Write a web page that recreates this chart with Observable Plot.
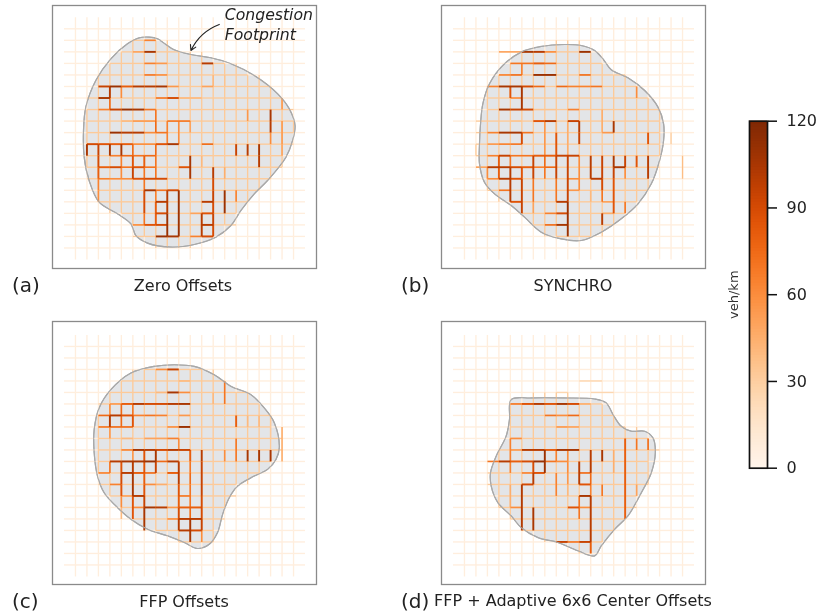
<!DOCTYPE html>
<html><head><meta charset="utf-8">
<script src="https://cdn.jsdelivr.net/npm/d3@7"></script>
<script src="https://cdn.jsdelivr.net/npm/@observablehq/plot@0.6"></script>
<style>
html,body{margin:0;padding:0;background:#fff;}
#page{position:relative;width:818px;height:613px;overflow:hidden;font-family:"DejaVu Sans",sans-serif;color:#222;filter:blur(0.45px);}
#page>div{position:absolute;}
.cap{font-size:16px;white-space:nowrap;transform:translate(-50%,-50%);}
.tag{font-size:20px;white-space:nowrap;transform:translateY(-50%);}
svg{overflow:visible;}
</style></head><body><div id="page"></div>
<script>
const outsideLevel = 7, insideLevel = 32;
const colorTicks = [0, 30, 60, 90, 120];
const captions = ["Zero Offsets", "SYNCHRO", "FFP Offsets", "FFP + Adaptive 6x6 Center Offsets"];
const tags = ["(a)", "(b)", "(c)", "(d)"];

// [row, colFrom, colTo, veh/km]
const aH = [[1,6,7,65],[2,5,6,50],[2,6,7,105],[3,6,7,65],[3,7,8,55],[3,11,12,100],[4,6,7,70],[4,7,8,60],
[5,2,3,95],[5,3,4,110],[5,4,5,80],[5,5,6,100],[5,6,7,100],[5,7,8,105],[5,8,9,55],[5,11,12,50],
[6,2,3,105],[6,7,8,70],[6,8,9,90],[6,9,11,40],[7,2,3,65],[7,3,4,95],[7,4,5,110],[7,5,6,105],[7,6,7,70],
[8,4,5,40],[8,5,7,55],[8,8,10,70],[9,3,4,110],[9,4,5,100],[9,5,6,100],[9,6,7,60],[9,7,8,70],
[10,1,2,90],[10,2,3,85],[10,3,5,80],[10,5,7,60],[10,7,8,85],[10,8,9,105],[10,11,12,75],
[11,3,4,65],[11,4,5,75],[11,5,6,70],[11,6,7,75],[12,2,3,80],[12,3,4,90],[12,4,5,70],[12,5,6,85],[12,6,7,70],[12,9,10,85],
[13,2,3,65],[13,3,5,60],[13,5,6,85],[13,6,8,90],[14,6,7,105],[14,7,8,70],[14,8,9,90],[15,7,8,100],[15,11,12,100],
[16,7,8,90],[16,10,11,50],[16,11,12,85],[17,5,6,60],[17,6,7,85],[17,7,8,90],[17,11,12,100],
[18,7,8,110],[18,8,9,105],[18,10,11,65],[18,11,12,90]];
// [col, rowFrom, rowTo, veh/km]
const aV = [[1,10,11,105],[2,10,11,95],[2,11,12,90],[2,12,13,80],[2,13,14,65],[2,14,15,60],[3,5,6,100],[3,6,7,75],[3,10,11,105],
[4,5,6,60],[4,10,11,105],[4,11,12,65],[4,12,13,60],[5,10,11,75],[5,11,12,85],[5,12,13,95],[6,11,12,80],[6,12,13,70],[6,13,14,70],[6,14,16,90],[6,16,17,70],
[7,7,8,70],[7,8,9,75],[7,10,11,75],[7,11,13,70],[7,14,15,65],[7,15,17,80],[8,8,10,65],[8,14,16,100],[8,16,18,110],[9,8,10,60],[9,14,18,110],
[10,8,9,50],[10,11,13,105],[11,11,12,40],[11,16,18,100],[12,4,5,40],[12,12,13,100],[12,13,14,90],[12,14,15,95],[12,15,16,90],[12,16,17,95],[12,17,18,90],
[13,4,5,35],[13,12,13,45],[13,14,16,110],[14,10,11,95],[14,14,15,65],[15,7,8,55],[15,10,11,100],[16,10,11,105],[16,11,12,100],
[17,7,8,105],[17,8,9,100],[17,9,10,60],[18,6,7,55],[18,8,10,55],[18,10,11,50]];
const aFootprint = [[6.42,.72],[7.15,.87],[7.88,1.36],[8.6,1.82],[10.06,2.23],[11.8,2.51],[13.55,3.03],[15.58,4.05],[17.62,5.64],[18.63,6.94],[19.13,8.38],[18.92,9.68],[18.34,11.13],[16.74,13.15],[15.58,14.31],[14.42,15.75],[13.55,17.05],[12.24,18.06],[10.35,18.7],[8.31,18.93],[6.28,18.58],[5.26,17.92],[4.83,16.91],[3.66,16.04],[2.06,15.03],[1.19,13.15],[.76,11.13],[.7,8.82],[.9,6.79],[1.77,4.48],[3.08,2.6],[4.53,1.3],[5.55,.78]];

const bH = [[2,3,5,50],[2,5,6,105],[2,6,7,100],[2,7,8,60],[2,10,11,110],[3,4,6,70],[3,6,7,80],[3,7,8,75],[4,3,4,65],[4,4,5,75],[4,6,8,110],[4,10,11,75],
[5,2,3,65],[5,3,5,105],[5,5,6,90],[5,6,7,75],[5,8,9,75],[5,9,11,65],[5,11,12,70],[6,4,5,60],[7,3,4,105],[7,4,5,95],[7,5,6,90],[7,6,8,35],[7,9,10,65],
[8,4,5,35],[8,6,7,85],[8,7,8,100],[8,9,10,95],[9,2,3,65],[9,3,5,105],[9,5,6,70],[9,12,13,55],[10,2,3,55],[10,3,4,65],[10,4,5,70],
[11,2,3,65],[11,3,4,95],[11,4,6,70],[11,6,8,80],[11,8,10,95],[12,1,2,50],[12,2,4,100],[12,4,5,90],[12,5,6,80],[12,6,7,65],[12,7,8,75],[12,13,14,105],
[13,2,3,60],[13,3,4,100],[13,4,5,85],[13,9,10,60],[13,11,12,100],[14,3,4,70],[14,9,10,55],[15,4,5,85],[15,8,9,100],[15,12,13,50],
[16,7,8,65],[16,8,9,90],[16,12,13,45],[17,7,8,75],[17,8,9,105]];
const bV = [[1,10,11,30],[2,12,13,60],[3,11,13,80],[4,5,6,85],[4,11,12,70],[4,12,15,100],[5,3,4,65],[5,5,7,105],[5,9,10,90],[5,12,13,85],[5,13,16,95],
[6,11,13,95],[6,13,15,70],[6,15,16,50],[7,8,11,55],[7,11,12,75],[7,12,13,70],[8,8,9,40],[8,9,11,85],[8,11,13,95],[8,13,15,70],
[9,8,11,45],[9,11,15,95],[9,15,18,110],[10,8,9,100],[10,9,10,95],[10,11,14,60],[11,11,13,100],[11,14,15,40],[12,7,9,45],[12,11,13,95],[12,13,14,90],[12,14,15,70],[12,16,17,100],
[13,8,9,105],[13,11,12,105],[13,12,13,95],[13,13,16,85],[14,11,12,95],[14,12,13,60],[14,15,16,70],[15,5,6,60],[15,11,12,85],[16,9,10,85],[16,11,13,100],[18,9,10,30],[19,11,13,38]];
const bFootprint = [[8.72,1.36],[10.17,1.45],[11.34,1.88],[12.06,2.6],[12.79,3.55],[14.24,4.25],[15.7,5.35],[16.86,6.79],[17.35,8.24],[17.35,9.68],[17,11.42],[16.28,13.44],[15.12,15.17],[13.66,16.47],[11.92,17.63],[10.17,18.35],[8.43,18.21],[6.69,17.63],[5.23,16.33],[4.07,15.32],[2.62,14.31],[1.74,13.3],[1.31,11.71],[1.31,9.97],[1.4,8.24],[1.6,6.5],[2.18,4.77],[3.34,3.18],[4.94,2.02],[6.69,1.53]];

const cH = [[2,7,8,60],[2,8,9,95],[3,9,10,40],[4,7,8,40],[4,8,9,105],[4,9,10,60],[5,3,4,55],[5,4,5,80],[5,5,6,100],[5,6,8,90],[5,8,9,100],[5,9,10,105],
[6,2,3,75],[6,3,4,100],[6,4,5,85],[6,5,6,65],[6,6,7,70],[6,7,8,65],[6,9,10,55],[7,2,3,70],[7,3,5,75],[7,8,9,60],[7,9,10,110],[8,4,5,40],[8,6,8,50],[8,8,9,65],
[9,4,5,65],[9,5,6,105],[9,6,7,100],[9,7,8,90],[9,8,9,100],[9,9,10,95],[10,3,4,100],[10,4,6,105],[10,6,7,110],[10,7,8,75],[10,8,9,100],
[11,2,3,65],[11,4,5,100],[11,5,6,80],[11,6,7,75],[11,8,9,80],[12,3,4,65],[12,6,7,60],[12,7,8,45],[13,4,5,50],[13,5,6,100],[13,9,10,70],
[14,5,6,60],[14,6,7,105],[14,7,8,100],[14,8,9,55],[14,9,11,80],[15,8,9,60],[15,9,11,100],[16,9,10,100],[16,10,11,90]];
const cV = [[3,5,6,60],[3,6,7,100],[3,7,8,55],[3,10,11,70],[4,5,7,75],[4,10,11,85],[4,11,12,90],[4,12,13,85],[4,13,14,60],[4,14,15,40],
[5,5,6,70],[5,6,7,85],[5,9,10,55],[5,10,11,100],[5,11,13,105],[5,13,15,85],[6,9,11,85],[6,11,12,80],[6,12,13,85],[6,13,14,95],[6,14,16,105],[7,9,10,105],[7,10,11,95],[8,9,10,45],
[9,8,9,60],[9,10,12,100],[9,12,13,85],[9,13,14,80],[9,14,15,90],[9,15,16,100],[10,9,10,80],[10,10,11,70],[10,11,12,75],[10,12,14,70],[10,14,15,75],[10,15,17,105],
[11,9,10,100],[11,10,13,95],[11,13,15,90],[11,15,16,95],[11,16,17,60],[12,4,5,40],[12,8,9,30],[13,3,5,70],[13,9,10,60],[14,6,7,80],[14,8,10,70],
[15,6,7,40],[15,9,10,105],[16,6,7,40],[16,9,10,105],[17,6,8,30],[17,9,10,105],[18,7,10,45]];
const cFootprint = [[6.86,1.73],[8.6,1.59],[10.35,1.73],[12.09,2.46],[13.55,3.47],[15.29,4.19],[16.45,5.35],[17.33,6.65],[17.76,8.82],[17.47,9.83],[16.74,10.69],[15.58,11.27],[14.13,12.14],[13.4,13.15],[12.82,14.6],[12.38,16.18],[11.66,17.2],[10.64,17.57],[9.48,17.05],[8.02,16.47],[6.28,15.9],[4.83,15.03],[3.52,13.87],[2.5,12.72],[1.92,11.27],[1.63,9.25],[1.63,7.23],[2.06,5.35],[3.08,3.76],[4.83,2.31]];

const dH = [[3,10,12,25],[4,8,9,25],[4,11,13,25],[5,4,5,70],[5,5,6,85],[5,6,7,100],[5,7,8,85],[5,8,9,105],[5,9,10,90],[5,10,11,45],[6,7,8,70],[6,8,9,60],[6,9,10,75],[7,8,9,55],[7,9,10,50],
[8,4,5,60],[9,4,5,55],[9,5,7,100],[9,7,8,80],[9,8,10,105],[10,2,3,70],[10,3,4,100],[10,4,5,80],[10,5,6,90],[10,6,7,110],[10,7,8,70],[10,8,9,60],
[11,5,6,65],[11,6,7,85],[11,10,11,75],[12,5,6,90],[12,10,11,85],[13,10,11,105],[14,4,5,60],[14,9,10,85],[14,10,11,60],[17,8,9,95],[17,9,10,70],[17,10,11,95]];
const dV = [[4,8,11,65],[4,12,14,45],[5,12,16,102],[6,10,11,90],[6,11,12,100],[6,14,16,105],[7,9,11,110],[8,9,10,65],[8,11,13,65],[9,9,11,60],[9,11,12,55],[9,12,13,40],
[10,10,12,100],[10,13,15,70],[11,9,11,100],[11,11,12,75],[11,12,13,65],[11,13,17,100],[11,17,18,80],[12,9,10,105],[12,12,13,70],[13,9,11,45],
[14,8,15,80],[15,8,9,70],[15,12,13,50],[16,8,9,75]];
const dFootprint = [[4.07,4.62],[5.81,4.48],[8.72,4.48],[11.34,4.57],[12.35,4.91],[12.94,5.92],[13.66,6.94],[14.53,7.37],[15.7,7.37],[16.42,7.95],[16.63,9.25],[16.28,10.98],[15.41,12.72],[14.24,14.74],[13.08,15.9],[11.92,17.34],[11.34,18.21],[9.88,17.77],[8.14,17.05],[6.4,16.62],[4.94,15.75],[4.07,14.74],[2.91,13.58],[2.33,12.14],[2.27,10.98],[2.76,9.54],[3.63,7.8],[3.92,6.36]];

const colorOpt = {type:"linear", scheme:"Oranges", domain:[0,120], clamp:true};
const svgStyle = {fontFamily:"'DejaVu Sans',sans-serif", overflow:"visible", background:"transparent"};
const page = document.getElementById("page");
function place(el, left, top, cls){
  const d = document.createElement("div");
  d.style.left = left+"px"; d.style.top = top+"px";
  if (cls) d.className = cls;
  if (typeof el === "string") d.textContent = el; else d.appendChild(el);
  page.appendChild(d);
}
function gridTable(H, V, poly){
  const rows = [];
  for (let c=0;c<20;c++) for (let r=-1;r<20;r++)
    rows.push({x1:c,y1:r,x2:c,y2:r+1,v:d3.polygonContains(poly,[c,r+.5])?insideLevel:outsideLevel});
  for (let r=0;r<20;r++) for (let c=-1;c<20;c++)
    rows.push({x1:c,y1:r,x2:c+1,y2:r,v:d3.polygonContains(poly,[c+.5,r])?insideLevel:outsideLevel});
  for (const [r,a,b,v] of H) rows.push({x1:a,y1:r,x2:b,y2:r,v});
  for (const [c,a,b,v] of V) rows.push({x1:c,y1:a,x2:c,y2:b,v});
  return rows.sort((p,q)=>p.v-q.v);
}
function panel(H, V, poly, yDomain, extra){
  return Plot.plot({
    width:264, height:263, margin:0, style:svgStyle,
    x:{domain:[-2,21],axis:null}, y:{domain:yDomain,axis:null,reverse:true},
    color:colorOpt,
    marks:[
      Plot.line(poly,{x:d=>d[0],y:d=>d[1],curve:"catmull-rom-closed",fill:"#e3e5e8",stroke:"#a9a9a9",strokeWidth:1.2}),
      Plot.link(gridTable(H,V,poly),{x1:"x1",y1:"y1",x2:"x2",y2:"y2",stroke:"v",strokeWidth:d=>d.v>=80?1.9:d.v>=40?1.6:1.35}),
      Plot.line(poly,{x:d=>d[0],y:d=>d[1],curve:"catmull-rom-closed",stroke:"#a9a9a9",strokeWidth:1.1}),
      Plot.frame({stroke:"#8a8a8a",strokeWidth:1.3}),
      ...(extra||[])
    ]
  });
}
const annotation = [
  Plot.text(["Congestion\nFootprint"],{x:[13.0],y:[-.45],text:d=>d,textAnchor:"start",fontStyle:"italic",fontSize:15.7,lineHeight:1.27,fill:"#222"}),
  Plot.arrow([0],{x1:[12.53],y1:[-.38],x2:[10.06],y2:[1.88],bend:-22,stroke:"#222",strokeWidth:1.1,headLength:8})
];
place(panel(aH,aV,aFootprint,[-2.02,20.78],annotation),52,5);
place(panel(bH,bV,bFootprint,[-2.02,20.78]),441,5);
place(panel(cH,cV,cFootprint,[-2.17,20.7]),52,321);
place(panel(dH,dV,dFootprint,[-2.17,20.7]),441,321);

place(captions[0],183,285,"cap");
place(captions[1],573,285,"cap");
place(captions[2],184,601,"cap");
place(captions[3],573,600,"cap");
place(tags[0],12,285,"tag");
place(tags[1],401,285,"tag");
place(tags[2],12,601,"tag");
place(tags[3],401,601,"tag");

const ramp = d3.range(0,120);
place(Plot.plot({
  width:98, height:380, marginTop:15.7, marginBottom:17.3, marginLeft:29, marginRight:51, style:svgStyle,
  x:{domain:[0,1],axis:null}, y:{domain:[0,120],axis:null},
  color:colorOpt,
  marks:[
    Plot.rect(ramp,{x1:0,x2:1,y1:d=>d,y2:d=>Math.min(d+1.4,120),fill:d=>d+.5}),
    Plot.frame({stroke:"#111",strokeWidth:1.7}),
    Plot.axisY(colorTicks,{anchor:"right",tickSize:9,tickPadding:10,fontSize:16,stroke:"#111",fill:"#222",strokeWidth:1.5,label:null}),
    Plot.text(["veh/km"],{frameAnchor:"left",textAnchor:"middle",dx:-16,rotate:-90,fontSize:13,fill:"#333"})
  ]
}),720,105);
</script></body></html>
